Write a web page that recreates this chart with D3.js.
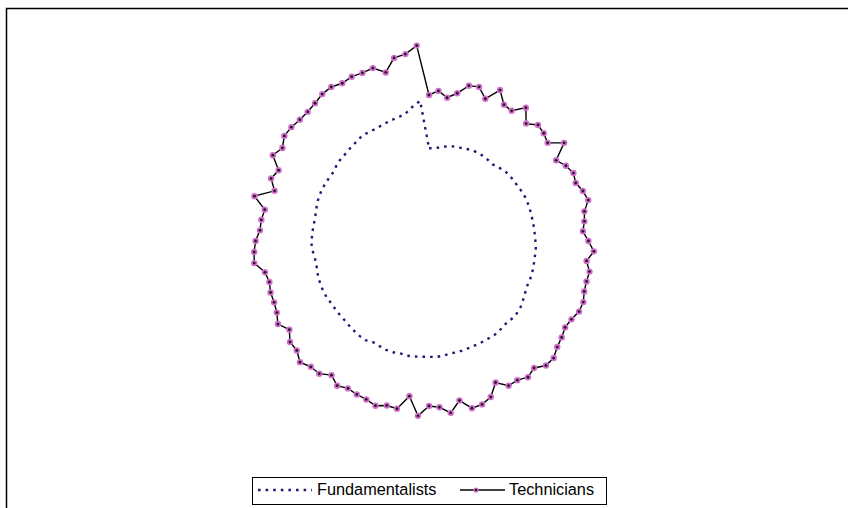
<!DOCTYPE html>
<html>
<head>
<meta charset="utf-8">
<script src="https://cdn.jsdelivr.net/npm/d3@7"></script>
<style>
  html, body { margin: 0; padding: 0; background: #fff; }
  svg { display: block; }
</style>
</head>
<body>
<svg id="chart" width="848" height="508"></svg>
<script>
// ---- data ----
const categories = d3.range(1, 101);
const seriesNames = ["Fundamentalists", "Technicians"];
const fundamentalists = [
  46.4,46.5,47.3,48.2,48.8,49.1,49.6,50.3,50.4,50.4,
  50.1,49.8,50.6,51.5,51.9,52.0,52.1,52.5,52.8,52.9,
  52.9,52.8,52.8,52.9,53.0,53.2,53.5,53.5,53.6,53.8,
  54.1,54.0,54.0,54.7,55.6,56.5,56.9,56.8,56.4,56.8,
  57.3,57.1,57.1,57.1,57.0,57.3,57.4,57.2,57.8,58.1,
  57.9,58.0,58.2,58.4,58.0,58.5,58.5,58.1,57.8,58.8,
  58.8,58.5,58.2,57.9,57.9,57.9,58.0,58.4,58.5,58.4,
  58.3,57.7,57.6,57.8,58.8,58.7,58.5,58.3,58.1,58.4,
  58.9,59.3,59.4,59.3,59.1,58.9,59.8,60.3,60.4,61.0,
  61.5,62.4,62.2,62.1,62.6,63.2,63.7,64.5,67.5,70.2
];
const technicians = [
  73.0,75.2,72.2,75.2,80.2,81.0,76.5,83.4,77.8,77.1,
  82.4,76.2,79.6,78.7,77.0,83.5,75.3,78.1,79.8,78.9,
  80.9,82.2,79.1,78.3,77.1,79.7,82.6,79.4,81.7,81.3,
  81.6,83.0,82.9,81.3,80.6,82.0,83.2,85.5,85.4,82.4,
  84.2,82.4,82.6,78.2,83.9,85.9,86.3,81.2,86.6,83.3,
  82.5,87.6,78.2,85.4,84.9,86.6,85.2,84.8,84.1,85.7,
  82.9,86.1,86.3,88.5,85.8,85.9,82.7,86.2,84.1,83.3,
  83.3,82.4,83.5,88.1,87.6,86.7,84.7,84.5,83.6,90.1,
  81.2,84.9,83.1,89.1,86.8,89.4,89.3,88.6,88.6,89.4,
  90.8,91.2,90.0,90.8,90.4,90.9,87.0,93.2,94.2,97.9
];
const radialDomain = [0, 100];

// ---- layout ----
const svg = d3.select("#chart");
const cx = 429, cy = 241;
const R = 200;

// outer chart frame
svg.append("rect")
  .attr("x", 6.5).attr("y", 8.5)
  .attr("width", 900).attr("height", 600)
  .attr("fill", "none").attr("stroke", "#000").attr("stroke-width", 1.5);

const r = d3.scaleLinear().domain(radialDomain).range([0, R]);
const angle = d3.scaleLinear().domain([0, categories.length]).range([0, 2 * Math.PI]);

const g = svg.append("g").attr("transform", `translate(${cx},${cy})`);

const radial = d3.lineRadial()
  .angle((d, i) => angle(i))
  .radius(d => r(d))
  .curve(d3.curveLinearClosed);

// Fundamentalists - dotted navy
g.append("path")
  .datum(fundamentalists)
  .attr("d", radial)
  .attr("fill", "none")
  .attr("stroke", "#1c1c78")
  .attr("stroke-width", 2.4)
  .attr("stroke-dasharray", "2.6,5");

// Technicians - black line with markers
g.append("path")
  .datum(technicians)
  .attr("d", radial)
  .attr("fill", "none")
  .attr("stroke", "#000")
  .attr("stroke-width", 1.4)
  .attr("stroke-linejoin", "miter");

const pt = (d, i) => {
  const a = angle(i);
  return [Math.sin(a) * r(d), -Math.cos(a) * r(d)];
};

g.selectAll("circle.mk")
  .data(technicians)
  .join("circle")
  .attr("class", "mk")
  .attr("cx", (d, i) => pt(d, i)[0])
  .attr("cy", (d, i) => pt(d, i)[1])
  .attr("r", 3.2)
  .attr("fill", "#d46ccf");
g.selectAll("circle.mkc")
  .data(technicians)
  .join("circle")
  .attr("class", "mkc")
  .attr("cx", (d, i) => pt(d, i)[0])
  .attr("cy", (d, i) => pt(d, i)[1])
  .attr("r", 1.4)
  .attr("fill", "#1a1a1a");

// ---- legend ----
const lg = svg.append("g");
lg.append("rect")
  .attr("x", 252.5).attr("y", 477.5)
  .attr("width", 354).attr("height", 27)
  .attr("fill", "#fff").attr("stroke", "#000").attr("stroke-width", 1);

const ly = 490;
lg.append("line")
  .attr("x1", 258).attr("x2", 312).attr("y1", ly).attr("y2", ly)
  .attr("stroke", "#1c1c78").attr("stroke-width", 2.4)
  .attr("stroke-dasharray", "2.6,5");
lg.append("text")
  .attr("x", 317).attr("y", 494.5)
  .attr("font-family", "Liberation Sans, Arial, sans-serif")
  .attr("font-size", 16.3)
  .attr("fill", "#000")
  .text(seriesNames[0]);

lg.append("line")
  .attr("x1", 460).attr("x2", 505).attr("y1", ly).attr("y2", ly)
  .attr("stroke", "#000").attr("stroke-width", 1.4);
lg.append("circle").attr("cx", 476).attr("cy", ly).attr("r", 2.6).attr("fill", "#d46ccf");
lg.append("circle").attr("cx", 476).attr("cy", ly).attr("r", 1.2).attr("fill", "#1a1a1a");
lg.append("text")
  .attr("x", 509).attr("y", 494.5)
  .attr("font-family", "Liberation Sans, Arial, sans-serif")
  .attr("font-size", 16.3)
  .attr("fill", "#000")
  .text(seriesNames[1]);
</script>
</body>
</html>
